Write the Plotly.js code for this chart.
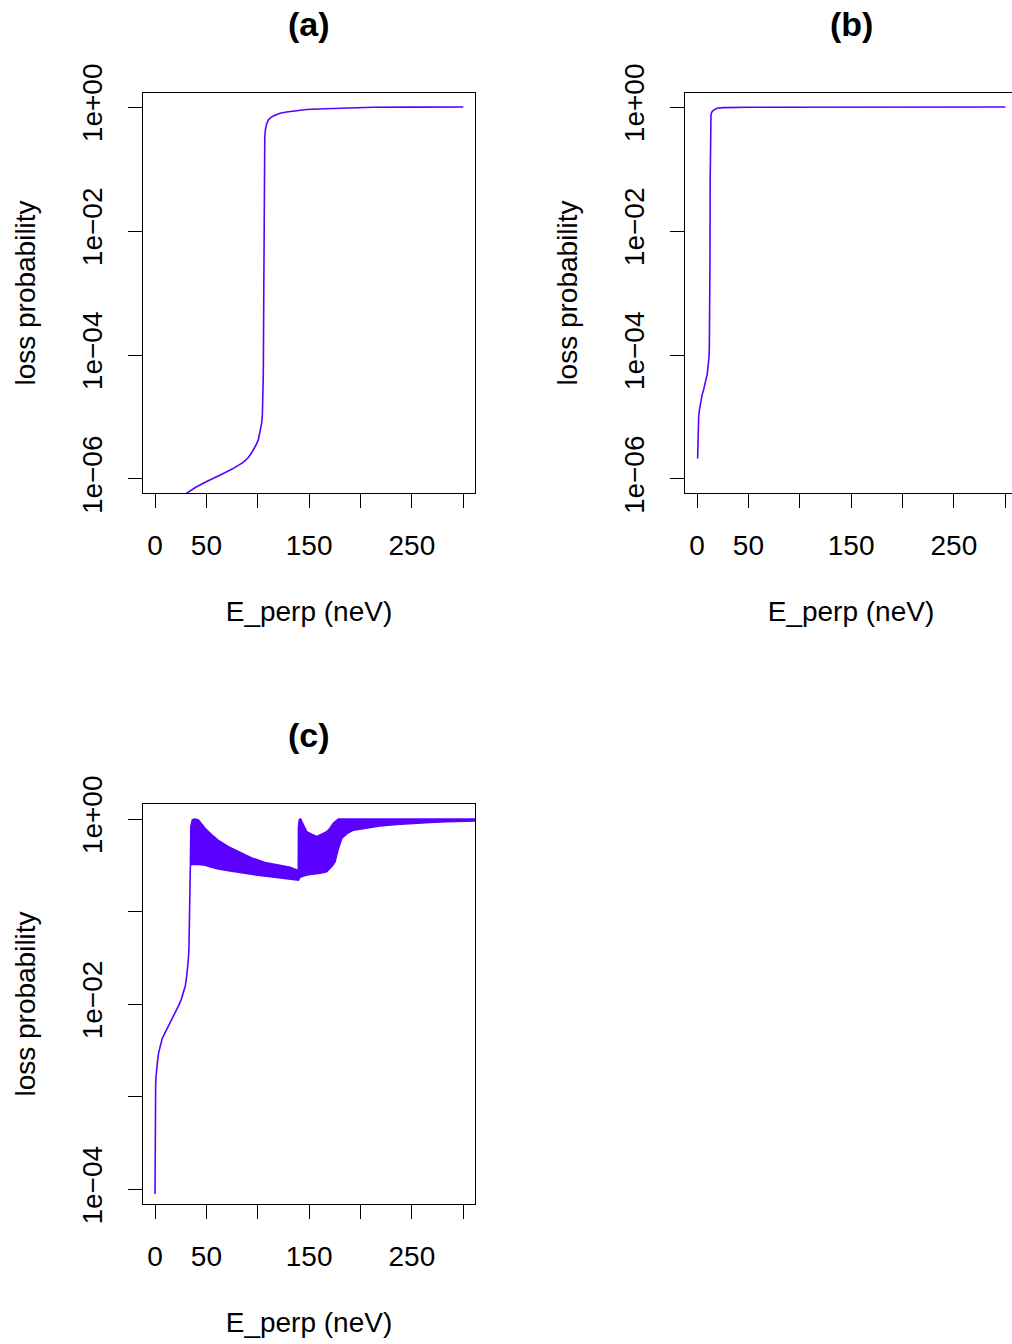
<!DOCTYPE html>
<html>
<head>
<meta charset="utf-8">
<script src="https://cdn.plot.ly/plotly-3.0.1.min.js"></script>
<style>
html, body { margin: 0; padding: 0; overflow: hidden; background: #ffffff; }
#chart { width: 1084px; height: 1344px; }
</style>
</head>
<body>
<div id="chart"></div>
<script>
// ---------------- DATA ----------------
// Panel (a): E_perp (neV) vs log10(loss probability)
var a_E      = [26, 30.8, 40, 50.3, 60, 66.5, 75, 82.7, 85, 88, 91, 93.5, 95.7, 98, 100.5, 102.3, 103.8, 104.5, 104.8, 105.2, 105.4, 105.8, 106.1, 106.4, 106.8, 107.4, 108.5, 110.3, 112.5, 115.1, 118, 121.7, 128, 134.6, 147.6, 165, 180, 212.5, 250, 300];
var a_log10P = [-6.28, -6.23, -6.13, -6.04, -5.97, -5.91, -5.84, -5.77, -5.74, -5.70, -5.65, -5.59, -5.53, -5.46, -5.37, -5.25, -5.10, -4.95, -4.83, -4.50, -4.30, -3.10, -1.88, -0.69, -0.50, -0.37, -0.28, -0.21, -0.17, -0.145, -0.12, -0.10, -0.08, -0.065, -0.04, -0.028, -0.02, -0.005, -0.002, 0];

// Panel (b)
var b_E      = [0.6, 0.7, 0.9, 1.2, 1.6, 2.5, 3.9, 5.0, 6.4, 7.7, 9.0, 10.0, 10.7, 11.3, 11.7, 12.0, 12.3, 12.6, 12.8, 13.0, 13.3, 13.6, 14.6, 16.2, 19.5, 25.9, 50, 100, 300];
var b_log10P = [-5.67, -5.50, -5.25, -5.10, -4.99, -4.87, -4.73, -4.64, -4.56, -4.48, -4.40, -4.30, -4.19, -4.10, -4.03, -3.85, -3.49, -2.50, -1.20, -0.30, -0.17, -0.12, -0.075, -0.05, -0.02, -0.01, -0.003, -0.001, 0];

// Panel (c): single rising line, then a fast oscillation given as lower and upper envelopes
var c_ramp_E       = [0, 0.1, 0.3, 0.6, 1.0, 1.7, 2.6, 3.6, 4.9, 7.0, 9.7, 13, 16.2, 19.5, 22.7, 25.5, 27.6, 29.5, 30.8, 31.8, 32.4, 33.0, 33.4, 33.8, 34.1, 34.4];
var c_ramp_log10P  = [-4.05, -3.5, -3.03, -2.88, -2.78, -2.68, -2.60, -2.52, -2.45, -2.37, -2.31, -2.24, -2.17, -2.10, -2.02, -1.95, -1.88, -1.80, -1.70, -1.62, -1.52, -1.40, -1.23, -0.95, -0.69, -0.50];
var c_lower_E      = [34.4, 35.6, 42, 48.7, 55, 61.6, 70, 77.9, 86, 94.1, 102, 110.3, 118, 126.5, 133, 137.9, 139.5, 141.1, 146, 150.9, 155, 160.6, 167, 170.3, 173, 175.2, 178.4, 181.7, 186.5, 193, 199.5, 209.2, 219, 235, 251.4, 267.6, 283.9, 303.4, 315];
var c_lower_log10P = [-0.50, -0.49, -0.49, -0.50, -0.52, -0.54, -0.555, -0.57, -0.585, -0.60, -0.61, -0.62, -0.63, -0.64, -0.65, -0.66, -0.66, -0.63, -0.61, -0.60, -0.595, -0.585, -0.57, -0.53, -0.50, -0.46, -0.32, -0.21, -0.16, -0.12, -0.108, -0.088, -0.075, -0.058, -0.045, -0.036, -0.03, -0.024, -0.02];
var c_upper_E      = [34.4, 34.5, 34.9, 36.3, 38.9, 42.2, 45, 48.7, 55.2, 61.6, 71.4, 81.1, 94.1, 107.1, 120, 131.4, 137.9, 139.4, 139.6, 140.3, 141.6, 144.3, 147.6, 152.4, 157.3, 162.1, 167, 170.3, 173.5, 178.4, 315];
var c_upper_log10P = [-0.50, -0.20, -0.08, -0.01, 0.0, -0.01, -0.05, -0.10, -0.17, -0.23, -0.30, -0.35, -0.42, -0.47, -0.50, -0.52, -0.55, -0.56, -0.10, -0.01, 0.0, -0.065, -0.137, -0.165, -0.19, -0.165, -0.137, -0.10, -0.047, 0.0, 0.0];

// Tick labels
var xTickVals = [0, 50, 100, 150, 200, 250, 300];
var xTickText = ["0", "50", "", "150", "", "250", ""];
var abTickVals = [1e-6, 1e-4, 1e-2, 1];
var abTickText = ["1e\u221206", "1e\u221204", "1e\u221202", "1e+00"];
var cTickVals = [1e-4, 1e-3, 1e-2, 1e-1, 1];
var cTickText = ["1e\u221204", "", "1e\u221202", "", "1e+00"];

var panelTitles = ["(a)", "(b)", "(c)"];
var xTitle = "E_perp (neV)";
var yTitle = "loss probability";

// ---------------- PLOT ----------------
var lineColor = "#5a00ff";
function toP(arr) { return arr.map(function (v) { return Math.pow(10, v); }); }
function lineTrace(x, y, xa, ya) {
  return { x: x, y: toP(y), xaxis: xa, yaxis: ya, type: "scatter", mode: "lines",
           line: { color: lineColor, width: 1.6 }, showlegend: false, hoverinfo: "skip" };
}

var cUpper = lineTrace(c_upper_E, c_upper_log10P, "x3", "y3");
cUpper.fill = "tonexty";
cUpper.fillcolor = lineColor;

var traces = [
  lineTrace(a_E, a_log10P, "x", "y"),
  lineTrace(b_E, b_log10P, "x2", "y2"),
  lineTrace(c_ramp_E, c_ramp_log10P, "x3", "y3"),
  lineTrace(c_lower_E, c_lower_log10P, "x3", "y3"),
  cUpper
];

var W = 1084, H = 1344;
function fx(p) { return p / W; }
function fy(p) { return 1 - p / H; }
var FONT = "Liberation Sans, Arial, Helvetica, sans-serif";

function xAxis(left, right, anchor) {
  return {
    domain: [fx(left), fx(right)], anchor: anchor,
    range: [-11.7, 311.4], showgrid: false, zeroline: false,
    showline: true, mirror: true, linecolor: "#000", linewidth: 1,
    ticks: "outside", ticklen: 14, tickwidth: 1, tickcolor: "#000",
    tickmode: "array", tickvals: xTickVals, ticktext: xTickText,
    tickfont: { family: FONT, size: 28, color: "#000" }, ticklabelstandoff: 13,
    title: { text: xTitle, font: { family: FONT, size: 28, color: "#000" }, standoff: 41 },
    automargin: false
  };
}
function yAxis(top, bottom, anchor, range, tv, tt) {
  return {
    domain: [fy(bottom), fy(top)], anchor: anchor, type: "log",
    range: range, showgrid: false, zeroline: false,
    showline: true, mirror: true, linecolor: "#000", linewidth: 1,
    ticks: "outside", ticklen: 14, tickwidth: 1, tickcolor: "#000",
    tickmode: "array", tickvals: tv, ticktext: tt, tickangle: -90,
    tickfont: { family: FONT, size: 28, color: "#000" }, ticklabelstandoff: 15,
    title: { text: yTitle, font: { family: FONT, size: 28, color: "#000" }, standoff: 32 },
    automargin: false
  };
}

var layout = {
  width: W, height: H,
  margin: { l: 0, r: 0, t: 0, b: 0 },
  paper_bgcolor: "#fff", plot_bgcolor: "#fff",
  font: { family: FONT, size: 28, color: "#000" },
  xaxis:  xAxis(143, 475, "y"),
  yaxis:  yAxis(93, 493, "x", [-6.226, 0.226], abTickVals, abTickText),
  xaxis2: xAxis(685, 1017, "y2"),
  yaxis2: yAxis(93, 493, "x2", [-6.226, 0.226], abTickVals, abTickText),
  xaxis3: xAxis(143, 475, "y3"),
  yaxis3: yAxis(804, 1204, "x3", [-4.157, 0.162], cTickVals, cTickText),
  annotations: [
    { text: "<b>" + panelTitles[0] + "</b>", x: fx(309), y: fy(24), xref: "paper", yref: "paper",
      xanchor: "center", yanchor: "middle", showarrow: false, font: { family: FONT, size: 34, color: "#000" } },
    { text: "<b>" + panelTitles[1] + "</b>", x: fx(851), y: fy(24), xref: "paper", yref: "paper",
      xanchor: "center", yanchor: "middle", showarrow: false, font: { family: FONT, size: 34, color: "#000" } },
    { text: "<b>" + panelTitles[2] + "</b>", x: fx(309), y: fy(735), xref: "paper", yref: "paper",
      xanchor: "center", yanchor: "middle", showarrow: false, font: { family: FONT, size: 34, color: "#000" } }
  ]
};

Plotly.newPlot("chart", traces, layout, { staticPlot: true, displayModeBar: false });
</script>
</body>
</html>
